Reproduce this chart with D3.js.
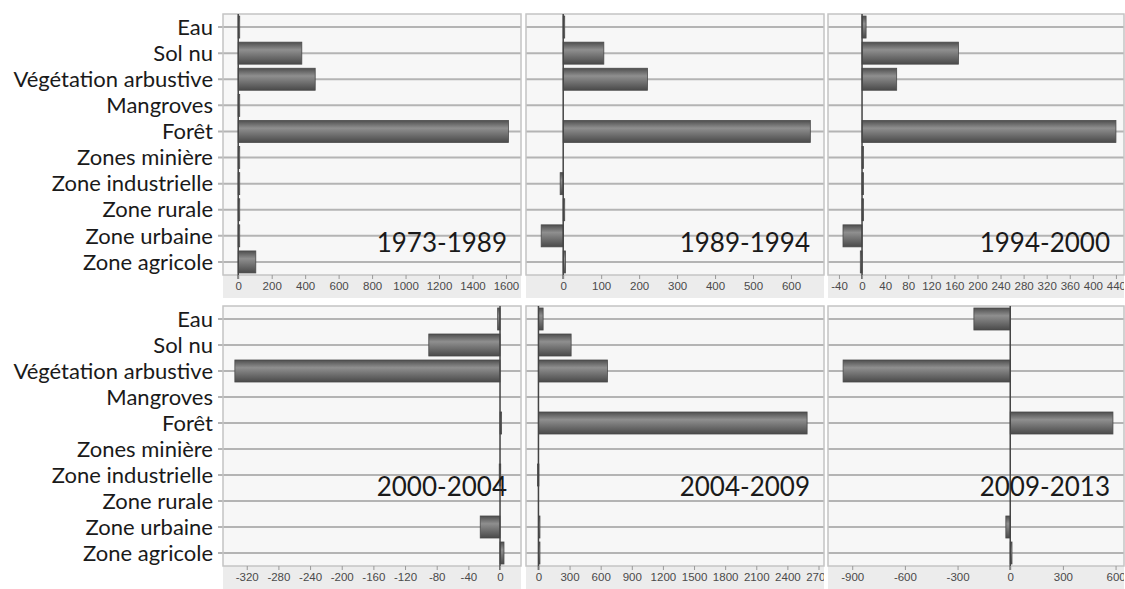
<!DOCTYPE html>
<html><head><meta charset="utf-8">
<script src="https://cdn.jsdelivr.net/npm/d3@7"></script>
<style>body{margin:0;background:#fff;}svg{display:block;}</style>
</head><body>
<svg id="c" width="1125" height="589"></svg>
<script>
const categories = ["Eau","Sol nu","Végétation arbustive","Mangroves","Forêt","Zones minière","Zone industrielle","Zone rurale","Zone urbaine","Zone agricole"];
const periods = ["1973-1989","1989-1994","1994-2000","2000-2004","2004-2009","2009-2013"];
const v1973_1989 = [4, 380, 460, 4, 1615, 8, 2, 1, 5, 105];
const v1989_1994 = [1, 107, 222, 0, 651, 0, -8, 1, -58, 6];
const v1994_2000 = [7, 167, 60, 0, 440, 2, 1, 2, -33, -3];
const v2000_2004 = [-3, -90, -335, 0, 2, 0, -1, 0, -25, 5];
const v2004_2009 = [45, 315, 665, 0, 2590, 0, -10, 0, 5, 5];
const v2009_2013 = [-207, 0, -952, 0, 585, 0, 0, 0, -25, 10];
const seriesValues = [v1973_1989, v1989_1994, v1994_2000, v2000_2004, v2004_2009, v2009_2013];
const tickLabels = [
  [0,200,400,600,800,1000,1200,1400,1600],
  [0,100,200,300,400,500,600],
  [-40,0,40,80,120,160,200,240,280,320,360,400,440],
  [-320,-280,-240,-200,-160,-120,-80,-40,0],
  [0,300,600,900,1200,1500,1800,2100,2400,2700],
  [-900,-600,-300,0,300,600]
];
const xDomains = [[-91,1690],[-98,687],[-59,454],[-350,26.5],[-120,2753],[-1038,648]];

const svg = d3.select("#c");
const defs = svg.append("defs");
const grad = defs.append("linearGradient").attr("id","barg").attr("x1",0).attr("y1",0).attr("x2",0).attr("y2",1);
grad.append("stop").attr("offset","0%").attr("stop-color","#4e4e4e");
grad.append("stop").attr("offset","35%").attr("stop-color","#8f8f8f");
grad.append("stop").attr("offset","100%").attr("stop-color","#4a4a4a");

const lefts = [223, 526, 828];
const widths = [298, 298, 296];
const tops = [14, 306];
const heights = [261, 260];
const bandH = 23;
const periodY = [252, 496];

periods.forEach((p, i) => {
  const col = i % 3, row = Math.floor(i / 3);
  const x0 = lefts[col], w = widths[col], y0 = tops[row], h = heights[row];
  const x = d3.scaleLinear().domain(xDomains[i]).range([x0, x0 + w]);
  const y = d3.scaleBand().domain(categories).range([y0, y0 + h]);
  const g = svg.append("g");
  const cid = "clip" + i;
  defs.append("clipPath").attr("id", cid).append("rect").attr("x", x0).attr("y", y0).attr("width", w).attr("height", h + bandH);

  g.append("rect").attr("x", x0).attr("y", y0).attr("width", w).attr("height", h).attr("fill", "#f7f7f7");
  g.append("rect").attr("x", x0).attr("y", y0 + h).attr("width", w).attr("height", bandH).attr("fill", "#ececec");
  g.selectAll("line.grid").data(categories).join("line")
    .attr("x1", x0 - (col === 0 ? 5 : 0)).attr("x2", x0 + w)
    .attr("y1", d => y(d) + y.bandwidth() / 2).attr("y2", d => y(d) + y.bandwidth() / 2)
    .attr("stroke", "#b4b4b4").attr("stroke-width", 2);
  g.append("rect").attr("x", x0).attr("y", y0).attr("width", w).attr("height", h)
    .attr("fill", "none").attr("stroke", "#c4c4c4").attr("stroke-width", 1.5);

  const data = categories.map((c, k) => ({c, v: seriesValues[i][k]}));
  const bh = 22;
  g.selectAll("rect.bar").data(data.filter(d => d.v !== 0)).join("rect")
    .attr("x", d => Math.min(x(0), x(d.v)))
    .attr("width", d => Math.max(1.5, Math.abs(x(d.v) - x(0))))
    .attr("y", d => y(d.c) + y.bandwidth() / 2 - bh / 2)
    .attr("height", bh)
    .attr("fill", "url(#barg)").attr("stroke", "#4a4a4a").attr("stroke-width", 0.8);

  g.append("line").attr("x1", x(0)).attr("x2", x(0)).attr("y1", y0).attr("y2", y0 + h + 4)
    .attr("stroke", "#444").attr("stroke-width", 1.5);

  const ax = d3.axisBottom(x).tickValues(tickLabels[i]).tickSize(4).tickPadding(3).tickFormat(d => String(d));
  const wrap = svg.append("g").attr("clip-path", `url(#${cid})`);
  const axg = wrap.append("g").attr("transform", `translate(0,${y0 + h})`).call(ax);
  axg.attr("font-family", "Liberation Sans, Arial, sans-serif").attr("font-size", 11.5);
  axg.select(".domain").remove();
  axg.selectAll(".tick line").attr("stroke", "#999");
  axg.selectAll(".tick text").attr("fill", "#4a4a4a");

  svg.append("text").attr("x", x0 + w - 14).attr("y", periodY[row]).attr("text-anchor", "end")
    .attr("font-family", "Lato, sans-serif").attr("font-size", 26).attr("fill", "#1a1a1a").text(p);

  if (col === 0) {
    svg.append("g").selectAll("text").data(categories).join("text")
      .attr("x", 213).attr("y", d => y(d) + y.bandwidth() / 2).attr("dy", "0.35em")
      .attr("text-anchor", "end").attr("font-family", "Lato, sans-serif").attr("font-size", 22)
      .attr("fill", "#1a1a1a").text(d => d);
  }
});
</script>
</body></html>
